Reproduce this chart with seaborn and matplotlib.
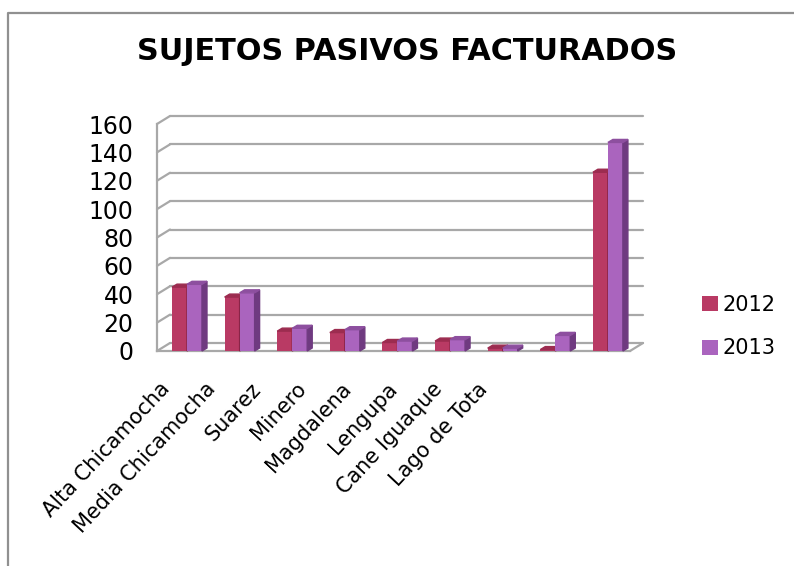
import pandas as pd
import matplotlib
matplotlib.use("Agg")
import matplotlib.pyplot as plt
from matplotlib.patches import Polygon
from matplotlib.lines import Line2D
import seaborn as sns

### Data ###
categories = ["Alta Chicamocha", "Media Chicamocha", "Suarez", "Minero",
              "Magdalena", "Lengupa", "Cane Iguaque", "Lago de Tota", "Total"]
# the last group (the total) has no label under it in the source chart
tick_labels = categories[:8]
years = ["2012", "2013"]
values_2012 = [45, 38, 14, 13, 6, 7, 2, 1, 126]
values_2013 = [47, 41, 16, 15, 7, 8, 2, 11, 147]
y_ticks = [0, 20, 40, 60, 80, 100, 120, 140, 160]

df = pd.DataFrame({
    "region": categories * 2,
    "year": [years[0]] * len(categories) + [years[1]] * len(categories),
    "value": values_2012 + values_2013,
})

front_colors = ["#B93A64", "#AA64BE"]
top_colors = ["#9C2C50", "#8D4F9F"]
side_colors = ["#8A2448", "#6F3A80"]
grid_color = "#A8A8A8"

### Figure ###
sns.set_style("white")
plt.rcParams["font.family"] = ["DejaVu Sans"]
plt.rcParams["text.color"] = "black"
plt.rcParams["xtick.color"] = "black"
plt.rcParams["ytick.color"] = "black"

W, H = 794, 566
fig = plt.figure(figsize=(W / 100, H / 100), dpi=100)
ax = fig.add_axes([157 / W, 1 - 351 / H, 473 / W, 227 / H])

sns.barplot(data=df, x="region", y="value", hue="year", order=categories,
            hue_order=years, palette=front_colors, saturation=1, width=0.57,
            linewidth=0, ax=ax)

xmin, xmax = -0.57, 8.42
ax.set_xlim(xmin, xmax)
ax.set_ylim(0, 160)

# pseudo 3D offsets in data units (px / px-per-unit)
px_x = 473 / (xmax - xmin)
px_y = 227 / 160
dxb, dyb = 13 / px_x, 8 / px_y     # back wall
ddx, ddy = 5 / px_x, 3 / px_y      # bar depth

# back wall gridlines and left wall connectors
for v in y_ticks:
    ax.plot([xmin + dxb, xmax + dxb], [v + dyb, v + dyb], color=grid_color,
            lw=1.6, clip_on=False, zorder=1)
    ax.plot([xmin, xmin + dxb], [v, v + dyb], color=grid_color, lw=1.6,
            clip_on=False, zorder=1)
ax.plot([xmax, xmax + dxb], [0, dyb], color=grid_color, lw=1.6,
        clip_on=False, zorder=1)

# bar side and top faces
for k, cont in enumerate(ax.containers):
    for bar in cont:
        x, w, h = bar.get_x(), bar.get_width(), bar.get_height()
        z = 3 + k
        bar.set_zorder(z)
        ax.add_patch(Polygon([(x + w, 0), (x + w + ddx, ddy), (x + w + ddx, h + ddy), (x + w, h)],
                             closed=True, color=side_colors[k], zorder=z, clip_on=False))
        ax.add_patch(Polygon([(x, h), (x + ddx, h + ddy), (x + w + ddx, h + ddy), (x + w, h)],
                             closed=True, color=top_colors[k], zorder=z, clip_on=False))

sns.despine(ax=ax)
for side in ["left", "bottom"]:
    ax.spines[side].set_color(grid_color)
    ax.spines[side].set_linewidth(1.6)

label_pos = [-0.53 + 0.863 * i for i in range(len(tick_labels))]
ax.set_xticks(label_pos, tick_labels, rotation=47, ha="right",
              rotation_mode="anchor", fontsize=15)
ax.tick_params(axis="x", length=0, pad=20)
ax.set_yticks(y_ticks)
ax.tick_params(axis="y", length=0, pad=17, labelsize=17)
ax.set_xlabel("")
ax.set_ylabel("")

fig.text(407 / W, 1 - 52 / H, "SUJETOS PASIVOS FACTURADOS", ha="center",
         va="center", fontsize=21.8, fontweight="bold")

handles, labels = ax.get_legend_handles_labels()
ax.get_legend().remove()
fig.legend(handles, labels, loc="center left",
           bbox_to_anchor=(702 / W, 1 - 326.5 / H), frameon=False, fontsize=15,
           handlelength=0.75, handleheight=0.75, handletextpad=0.25,
           labelspacing=1.15, borderpad=0, borderaxespad=0)

# outer chart frame
fig.add_artist(Line2D([8 / W, 8 / W, 1], [0, 1 - 12.7 / H, 1 - 12.7 / H],
                      transform=fig.transFigure, color="#909090", lw=1.6))

fig.savefig("out.png", dpi=100)
